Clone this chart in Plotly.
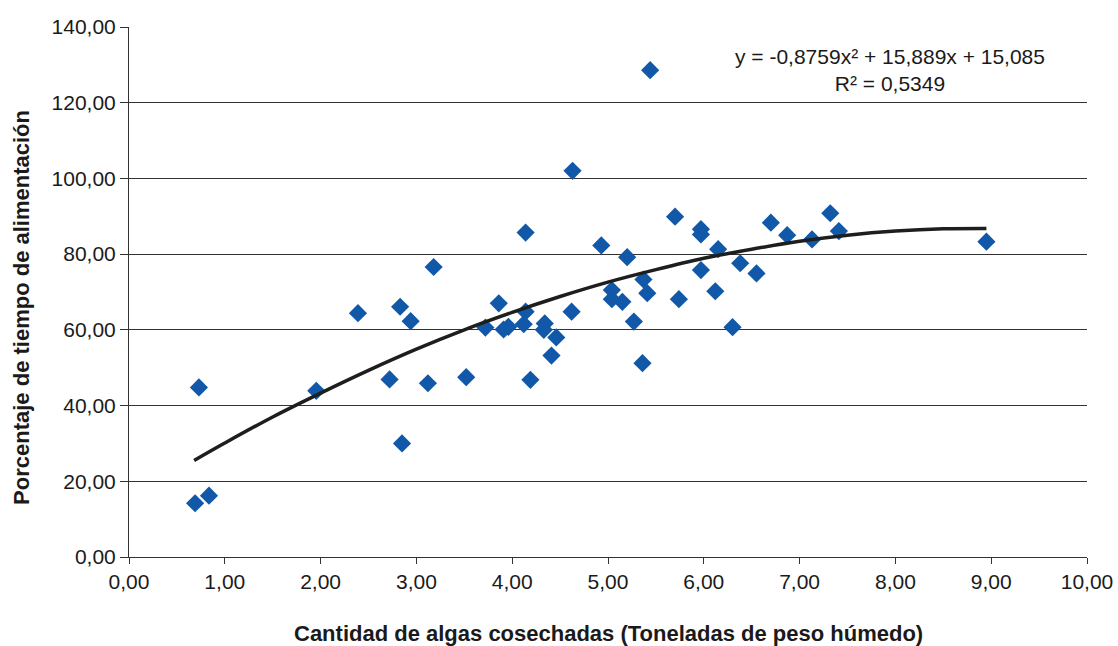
import plotly.graph_objects as go

x_vals = [0.73, 0.69, 0.835, 1.955, 2.39, 2.83, 2.94, 3.18, 2.72, 2.85, 3.12, 3.52,
          3.72, 3.86, 3.91, 3.96, 4.14, 4.12, 4.14, 4.19, 4.34, 4.33, 4.46, 4.41,
          4.62, 4.63, 4.93, 5.20, 5.04, 5.04, 5.15, 5.27, 5.37, 5.41, 5.36, 5.44,
          5.70, 5.74, 5.97, 5.97, 5.97, 6.15, 6.12, 6.38, 6.30, 6.55, 6.70, 6.87,
          7.13, 7.32, 7.41, 8.95]
y_vals = [44.8, 14.2, 16.2, 43.9, 64.4, 66.1, 62.3, 76.6, 46.9, 30.0, 45.9, 47.5,
          60.6, 67.0, 60.1, 60.8, 85.7, 61.5, 64.8, 46.8, 61.7, 60.0, 58.0, 53.2,
          64.8, 102.0, 82.3, 79.2, 70.5, 68.1, 67.4, 62.2, 73.3, 69.7, 51.2, 128.6,
          89.9, 68.1, 86.6, 85.2, 75.8, 81.3, 70.2, 77.6, 60.7, 74.9, 88.3, 85.0,
          83.9, 90.8, 86.1, 83.3]

# Trend line points
trend_x = [0.68, 1.0, 1.5, 2.0, 2.5, 3.0, 3.5, 4.0, 4.5, 5.0, 5.5, 6.0, 6.5, 7.0,
           7.5, 8.0, 8.5, 8.95]
trend_y = [25.5, 30.1, 37.0, 43.3, 49.3, 54.9, 60.0, 64.6, 68.8, 72.6, 75.9, 78.9,
           81.3, 83.4, 85.0, 86.1, 86.7, 86.8]

equation_text = "y = -0,8759x² + 15,889x + 15,085<br>R² = 0,5349"
x_title = "Cantidad de algas cosechadas (Toneladas de peso húmedo)"
y_title = "Porcentaje de tiempo de alimentación"

FONT = "Liberation Sans, Arial, sans-serif"

fig = go.Figure()
fig.add_trace(go.Scatter(
    x=x_vals, y=y_vals, mode="markers",
    marker=dict(symbol="diamond", size=14, color="#1258A8"),
    showlegend=False, hoverinfo="x+y"))
fig.add_trace(go.Scatter(
    x=trend_x, y=trend_y, mode="lines",
    line=dict(color="#1e1e1e", width=3.5, shape="spline"),
    showlegend=False, hoverinfo="skip"))

fig.update_layout(
    width=1118, height=646,
    margin=dict(l=129, r=31, t=27, b=89),
    paper_bgcolor="white", plot_bgcolor="white",
    separators=",.",
    font=dict(family=FONT, size=21, color="#1a1a1a"),
    xaxis=dict(range=[0, 10], dtick=1, tick0=0, tickformat=".2f",
               showgrid=False, zeroline=False, automargin=False,
               showline=True, linecolor="#333", linewidth=1,
               ticks="outside", ticklen=6, tickcolor="#333",
               tickfont=dict(size=21)),
    yaxis=dict(range=[0, 140], dtick=20, tick0=0, tickformat=".2f",
               showgrid=True, gridcolor="#333", gridwidth=1,
               zeroline=False, automargin=False,
               showline=True, linecolor="#333", linewidth=1,
               ticks="outside", ticklen=8, tickcolor="#333",
               tickfont=dict(size=21)),
    annotations=[
        dict(text=equation_text, x=0.794, y=0.918, xref="paper", yref="paper",
             xanchor="center", yanchor="middle", showarrow=False, align="center",
             font=dict(size=21, family=FONT, color="#1a1a1a")),
        dict(text="<b>" + x_title + "</b>", x=0.5, y=0, xref="paper", yref="paper",
             xanchor="center", yanchor="middle", yshift=-76, showarrow=False,
             font=dict(size=22, family=FONT, color="#1a1a1a")),
        dict(text="<b>" + y_title + "</b>", x=0, y=0.47, xref="paper", yref="paper",
             xanchor="center", yanchor="middle", xshift=-107, textangle=-90,
             showarrow=False, font=dict(size=22, family=FONT, color="#1a1a1a")),
    ],
)

fig.write_html("out.html")
